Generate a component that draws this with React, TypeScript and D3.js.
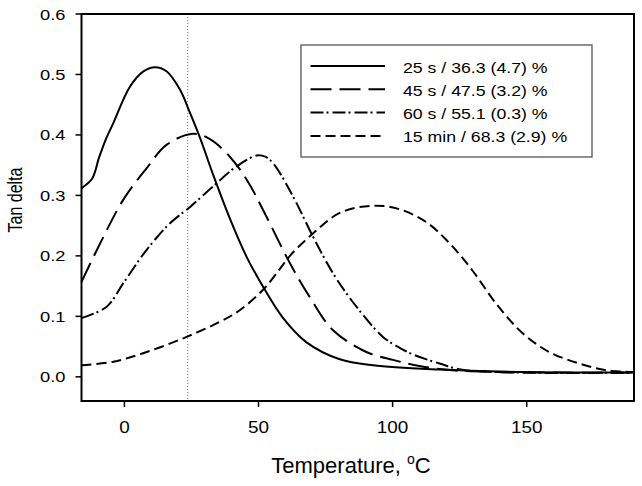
import * as d3 from "d3";

// temperature (°C) / tan delta
const s25T = [-16, -12, -9.5, -7, -4.1, 2.1, 7.1, 11.4, 15.8, 20.7, 24.5, 28.2, 33.1, 39.3, 45.6, 51.7, 59.2, 67.9, 80.3, 92.7, 117.5, 150, 190];
const s25V = [0.312, 0.328, 0.362, 0.392, 0.42, 0.48, 0.505, 0.512, 0.505, 0.475, 0.436, 0.395, 0.334, 0.262, 0.198, 0.149, 0.097, 0.057, 0.029, 0.019, 0.012, 0.008, 0.007];

const s45T = [-16, -9, -0.4, 8.3, 15.8, 25.7, 31.9, 39.3, 45.6, 51.7, 61.7, 69.1, 77.8, 90.2, 100.1, 110, 125, 190];
const s45V = [0.157, 0.221, 0.293, 0.345, 0.384, 0.402, 0.393, 0.364, 0.326, 0.276, 0.188, 0.132, 0.077, 0.041, 0.028, 0.018, 0.01, 0.007];

const s60T = [-16, -6.6, -0.4, 8.3, 17, 24.5, 33.1, 41.8, 49.3, 52.5, 55.5, 62.9, 70.3, 77.8, 86.5, 96.4, 102.6, 107.6, 117.5, 127, 190];
const s60V = [0.097, 0.116, 0.155, 0.21, 0.254, 0.281, 0.315, 0.348, 0.366, 0.364, 0.353, 0.298, 0.232, 0.171, 0.116, 0.066, 0.048, 0.037, 0.022, 0.011, 0.007];

const m15T = [-16, -4.1, 8.3, 23.2, 35.6, 43, 51.7, 57.9, 61.7, 70.3, 80.3, 92.7, 102.6, 112.5, 121.2, 129.9, 138.6, 148.5, 158.4, 169.6, 179.5, 190];
const m15V = [0.019, 0.025, 0.041, 0.066, 0.091, 0.11, 0.144, 0.178, 0.2, 0.237, 0.271, 0.283, 0.277, 0.256, 0.221, 0.175, 0.121, 0.072, 0.041, 0.022, 0.011, 0.008];

const seriesNames = ["25 s / 36.3 (4.7) %", "45 s / 47.5 (3.2) %", "60 s / 55.1 (0.3) %", "15 min / 68.3 (2.9) %"];
const dashes = ["none", "21,8", "13,3,2,4", "10,5"];
const xTicks = [0, 50, 100, 150];
const yTicks = [0, 0.1, 0.2, 0.3, 0.4, 0.5, 0.6];
const roomTemp = 23.6;

const W = 642;
const H = 486;
const left = 81.5;
const right = 634;
const top = 14;
const bottom = 401;
const font = "'Liberation Sans', Arial, sans-serif";

export default function App() {
  const x = d3.scaleLinear().domain([-16, 190]).range([left, right]);
  const y = d3.scaleLinear().domain([-0.04, 0.6]).range([bottom, top]);

  const line = d3
    .line<[number, number]>()
    .x(d => x(d[0]))
    .y(d => y(d[1]))
    .curve(d3.curveCatmullRom.alpha(0.5));

  const all = [
    d3.zip(s25T, s25V),
    d3.zip(s45T, s45V),
    d3.zip(s60T, s60V),
    d3.zip(m15T, m15V),
  ] as [number, number][][];

  return (
    <svg width={W} height={H} style={{ position: "absolute", left: 0, top: 0, background: "#fff" }} fontFamily={font}>
      {/* room temperature marker */}
      <line x1={x(roomTemp)} x2={x(roomTemp)} y1={top} y2={bottom} stroke="#777" strokeWidth={1} strokeDasharray="1,2" />

      {all.map((pts, i) => (
        <path key={i} d={line(pts) ?? ""} fill="none" stroke="#000" strokeWidth={2} strokeDasharray={dashes[i]} />
      ))}

      <rect x={left} y={top} width={right - left} height={bottom - top} fill="none" stroke="#000" strokeWidth={2} />

      {/* y axis */}
      {yTicks.map(t => (
        <g key={t}>
          <line x1={left - 6} x2={left} y1={y(t)} y2={y(t)} stroke="#000" strokeWidth={1.5} />
          <text transform={`translate(65.5,${y(t) + 5.5}) scale(1.18,1)`} fontSize={15.5} textAnchor="end">
            {t.toFixed(1)}
          </text>
        </g>
      ))}
      {/* x axis */}
      {xTicks.map(t => (
        <g key={t}>
          <line x1={x(t)} x2={x(t)} y1={bottom} y2={bottom + 6} stroke="#000" strokeWidth={1.5} />
          <text transform={`translate(${x(t)},432.5) scale(1.18,1)`} fontSize={16} textAnchor="middle">
            {t}
          </text>
        </g>
      ))}

      <text x={351} y={473} fontSize={22} textAnchor="middle">
        Temperature, <tspan fontSize={14} dy={-9}>o</tspan>
        <tspan dy={9}>C</tspan>
      </text>
      <text transform="translate(21.5,200) rotate(-90) scale(1,1.25)" fontSize={16} textAnchor="middle">
        Tan delta
      </text>

      {/* legend */}
      <rect x={301} y={45} width={291} height={112} fill="#fff" stroke="#555" strokeWidth={1.3} />
      {seriesNames.map((n, i) => {
        const ly = 66 + i * 23.3;
        return (
          <g key={n}>
            <line x1={310.5} x2={385} y1={ly} y2={ly} stroke="#000" strokeWidth={2} strokeDasharray={dashes[i]} />
            <text transform={`translate(403,${ly + 6.5}) scale(1.18,1)`} fontSize={15}>
              {n}
            </text>
          </g>
        );
      })}
    </svg>
  );
}
